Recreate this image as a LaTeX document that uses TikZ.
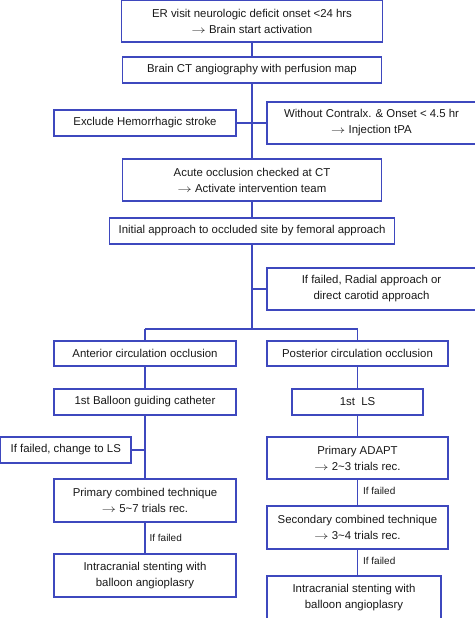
\documentclass[tikz,border=0pt]{standalone}
\usepackage{fontspec}
\setmainfont{Liberation Sans}
\definecolor{lineblue}{RGB}{62,72,190}
\definecolor{txt}{RGB}{25,25,25}
\newcommand{\arr}{\scalebox{1.3}[1]{$\rightarrow$}}
\begin{document}
\begin{tikzpicture}[x=1pt,y=-1pt,
  box/.style={draw=lineblue,line width=1.2pt,fill=white,text=txt,align=center,
    inner sep=0pt,font=\fontsize{11.4}{16}\selectfont},
  conn/.style={draw=lineblue,line width=1.2pt},
  lbl/.style={text=txt,font=\fontsize{10}{11}\selectfont,anchor=west,inner sep=0pt}]
\useasboundingbox (0,0) rectangle (474,618);
% nodes
\node[box,minimum width=261pt,minimum height=41.5pt] (er) at (252,21.25)
  {ER visit neurologic deficit onset <24 hrs\\\arr\ Brain start activation};
\node[box,minimum width=259pt,minimum height=26pt] (ct) at (252,70)
  {Brain CT angiography with perfusion map};
\node[box,minimum width=182pt,minimum height=26pt] (excl) at (145,123)
  {Exclude Hemorrhagic stroke};
\node[box,minimum width=209pt,minimum height=42pt] (tpa) at (371.5,123)
  {Without Contralx. \& Onset < 4.5 hr\\\arr\ Injection tPA};
\node[box,minimum width=259pt,minimum height=42pt] (acute) at (252,180)
  {Acute occlusion checked at CT\\\arr\ Activate intervention team};
\node[box,minimum width=285pt,minimum height=26pt] (init) at (252,231)
  {Initial approach to occluded site by femoral approach};
\node[box,minimum width=209pt,minimum height=42pt] (radial) at (371.5,289)
  {If failed, Radial approach or\\direct carotid approach};
\coordinate (split) at (252,329);
\node[box,minimum width=182pt,minimum height=25pt] (ant) at (145,353.5)
  {Anterior circulation occlusion};
\node[box,minimum width=181pt,minimum height=25pt] (post) at (357.5,353.5)
  {Posterior circulation occlusion};
\node[box,minimum width=182pt,minimum height=26pt] (bal) at (145,402)
  {1st Balloon guiding catheter};
\node[box,minimum width=131pt,minimum height=26pt] (ls1) at (357.5,402)
  {1st\ \ LS};
\node[box,minimum width=130.5pt,minimum height=26pt] (chg) at (65.75,450)
  {If failed, change to LS};
\node[box,minimum width=181pt,minimum height=42pt] (adapt) at (357.5,458)
  {Primary ADAPT\\\arr\ 2\textasciitilde3 trials rec.};
\node[box,minimum width=182pt,minimum height=43pt] (comb) at (145,500.5)
  {Primary combined technique\\\arr\ 5\textasciitilde7 trials rec.};
\node[box,minimum width=182pt,minimum height=43pt] (stentL) at (145,575.5)
  {Intracranial stenting with\\balloon angioplasry};
\node[box,minimum width=181pt,minimum height=43pt] (sec) at (357.5,527.5)
  {Secondary combined technique\\\arr\ 3\textasciitilde4 trials rec.};
\node[box,minimum width=174pt,minimum height=43pt] (stentR) at (354,597.5)
  {Intracranial stenting with\\balloon angioplasry};
% connectors
\draw[conn] (er.south) -- (ct.north);
\draw[conn] (ct.south) -- (acute.north);
\draw[conn] (excl.east) -- (tpa.west);
\draw[conn] (acute.south) -- (init.north);
\draw[conn] (init.south) -- (split);
\draw[conn] (split |- radial.west) -- (radial.west);
\draw[conn] (ant.north |- split) -- (post.north |- split);
\draw[conn] (ant.north |- split) -- (ant.north);
\draw[conn] (post.north |- split) -- (post.north);
\draw[conn] (ant.south) -- (bal.north);
\draw[conn] (bal.south) -- (comb.north);
\draw[conn] (chg.east) -- (bal.south |- chg.east);
\draw[conn] (comb.south) -- node[lbl,xshift=4pt] (lf1) {If failed} (stentL.north);
\draw[conn] (post.south) -- (ls1.north);
\draw[conn] (ls1.south) -- (adapt.north);
\draw[conn] (adapt.south) -- node[lbl,xshift=5pt,pos=0.45] (lf2) {If failed} (sec.north);
\draw[conn] (sec.south) -- node[lbl,xshift=5pt,pos=0.45] (lf3) {If failed} (sec.south |- stentR.north);
\end{tikzpicture}
\end{document}
